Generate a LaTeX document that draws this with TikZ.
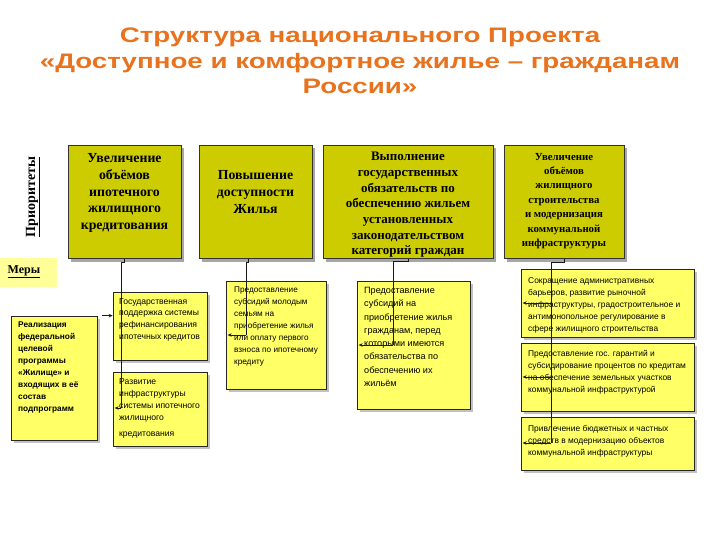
\documentclass[tikz,border=0pt]{standalone}
\usepackage{graphicx}
\usepackage{fontspec}
\setmainfont{Liberation Serif}
\newfontfamily\arialf{Liberation Sans}
\usetikzlibrary{shadows,arrows.meta,calc}
\definecolor{ttl}{RGB}{232,114,30}
\definecolor{pri}{RGB}{204,204,0}
\definecolor{mea}{RGB}{255,255,102}
\definecolor{mer}{RGB}{255,255,153}
\begin{document}
\begin{tikzpicture}[x=1pt,y=-1pt,
 pbox/.style={draw=black!80, fill=pri, line width=0.8pt, inner sep=0pt,
   drop shadow={shadow xshift=3pt,shadow yshift=-3pt,fill=black!50,opacity=0.7}},
 ptxt/.style={inner sep=0pt, align=center, font=\bfseries},
 mbox/.style={draw=black!85, fill=mea, line width=0.7pt, inner sep=0pt,
   drop shadow={shadow xshift=3pt,shadow yshift=-3pt,fill=black!40,opacity=0.6}},
 mtxt/.style={anchor=north west, inner sep=0pt, align=left},
 con/.style={draw=black!90, line width=1pt},
 arr/.style={con, -{Stealth[length=4pt,width=3.5pt]}}
]
\useasboundingbox (0,0) rectangle (720,540);

% title
\node[font=\arialf\bfseries\fontsize{21}{25.5}\selectfont, text=ttl, inner sep=0pt]
  (title) at (360,63) {\scalebox{1.32}[1]{\begin{tabular}{@{}c@{}}Структура национального Проекта\\«Доступное и комфортное жилье – гражданам\\России»\end{tabular}}};

% side labels
\node[rotate=90, font=\bfseries\fontsize{14}{16}\selectfont, inner sep=0pt] (prio) at (33,197) {\underline{Приоритеты}};
\node[fill=mer, minimum width=57pt, minimum height=29pt, anchor=north west, inner sep=0pt] (merybg) at (0,258) {};
\node[font=\bfseries\fontsize{12}{14}\selectfont, inner sep=0pt] (mery) at (24,272) {\underline{Меры}};

% priority boxes
\node[pbox, minimum width=113pt, minimum height=113pt] (p1) at (124.5,202) {};
\node[pbox, minimum width=113pt, minimum height=113pt] (p2) at (255.5,202) {};
\node[pbox, minimum width=170pt, minimum height=113pt] (p3) at (408,202) {};
\node[pbox, minimum width=120pt, minimum height=113pt] (p4) at (564,202) {};
\node[ptxt, font=\bfseries\fontsize{13.8}{16.7}\selectfont] (p1t) at (124.5,193)
  {Увеличение\\объёмов\\ипотечного\\жилищного\\кредитования};
\node[ptxt, font=\bfseries\fontsize{13.8}{16.7}\selectfont] (p2t) at (255.5,192)
  {Повышение\\доступности\\Жилья};
\node[ptxt, font=\bfseries\fontsize{13}{15.7}\selectfont] (p3t) at (408,205)
  {Выполнение\\государственных\\обязательств по\\обеспечению жильем\\установленных\\законодательством\\категорий граждан};
\node[ptxt, font=\bfseries\fontsize{10.8}{14.4}\selectfont] (p4t) at (564,201)
  {Увеличение\\объёмов\\жилищного\\строительства\\и модернизация\\коммунальной\\инфраструктуры};

% measure boxes
\node[mbox, minimum width=86pt, minimum height=124pt] (m1) at (54,378) {};
\node[mbox, minimum width=94pt, minimum height=68pt] (m2) at (160,326) {};
\node[mbox, minimum width=94pt, minimum height=74pt] (m3) at (160,409) {};
\node[mbox, minimum width=100pt, minimum height=108pt] (m4) at (276,335) {};
\node[mbox, minimum width=113pt, minimum height=128pt] (m5) at (413.5,345) {};
\node[mbox, minimum width=173pt, minimum height=68pt] (m6) at (607.5,303) {};
\node[mbox, minimum width=173pt, minimum height=68pt] (m7) at (607.5,377) {};
\node[mbox, minimum width=173pt, minimum height=53pt] (m8) at (607.5,443.5) {};

\node[mtxt, font=\arialf\bfseries\fontsize{8.3}{12}\selectfont] (m1t) at (18,322)
  {Реализация\\федеральной\\целевой\\программы\\«Жилище» и\\входящих в её\\состав\\подпрограмм};
\node[mtxt, font=\arialf\fontsize{8.6}{11.7}\selectfont] (m2t) at (119,298)
  {Государственная\\поддержка системы\\рефинансирования\\ипотечных кредитов};
\node[mtxt, font=\arialf\fontsize{8.6}{12}\selectfont] (m3t) at (119,378)
  {Развитие\\инфраструктуры\\системы ипотечного\\жилищного\\[4pt]кредитования};
\node[mtxt, font=\arialf\fontsize{8.2}{12}\selectfont] (m4t) at (234,287)
  {Предоставление\\субсидий молодым\\семьям на\\приобретение жилья\\или оплату первого\\взноса по ипотечному\\кредиту};
\node[mtxt, font=\arialf\fontsize{9.1}{13.3}\selectfont] (m5t) at (364,287)
  {Предоставление\\субсидий на\\приобретение жилья\\гражданам, перед\\которыми имеются\\обязательства по\\обеспечению их\\жильём};
\node[mtxt, font=\arialf\fontsize{8.4}{12}\selectfont] (m6t) at (528,277)
  {Сокращение административных\\барьеров, развитие рыночной\\инфраструктуры, градостроительное и\\антимонопольное регулирование в\\сфере жилищного строительства};
\node[mtxt, font=\arialf\fontsize{8.4}{12}\selectfont] (m7t) at (528,350)
  {Предоставление гос. гарантий и\\субсидирование процентов по кредитам\\на обеспечение земельных участков\\коммунальной инфраструктурой};
\node[mtxt, font=\arialf\fontsize{8.4}{12}\selectfont] (m8t) at (528,425)
  {Привлечение бюджетных и частных\\средств в модернизацию объектов\\коммунальной инфраструктуры};

% junction coordinates
\coordinate (j1) at (121,408);
\coordinate (j2) at (246,335);
\coordinate (j3) at (393,345);
\coordinate (j6) at (551,303);
\coordinate (j7) at (551,377);
\coordinate (j8) at (551,443);

% connectors
\draw[con] (p1.south) -- ++(0,4) -| (j1);
\draw[arr] (j1) -- ([xshift=2pt]j1 -| m3.west);
\draw[arr] ([xshift=5pt]m1.north east) -- (m1.north east -| m2.west);
\draw[con] ([xshift=-7pt]p2.south) -- ++(0,4) -| (j2);
\draw[arr] (j2) -- ([xshift=2pt]j2 -| m4.west);
\draw[con] (p3.south) -- ++(0,3) -| (j3);
\draw[arr] (j3) -- ([xshift=2pt]j3 -| m5.west);
\draw[con] (p4.south) -- ++(0,4) -| (j8);
\draw[arr] (j6) -- ([xshift=2pt]j6 -| m6.west);
\draw[arr] (j7) -- ([xshift=2pt]j7 -| m7.west);
\draw[arr] (j8) -- ([xshift=2pt]j8 -| m8.west);
\end{tikzpicture}
\end{document}
